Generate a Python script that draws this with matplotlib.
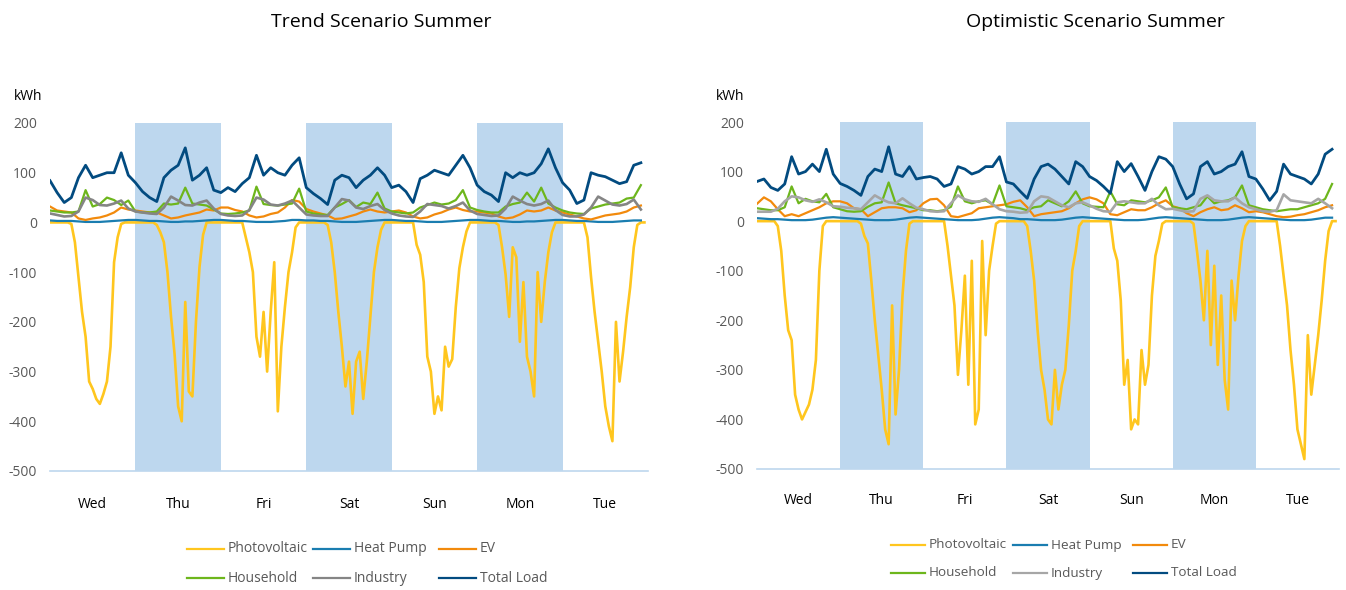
import numpy as np
import matplotlib
matplotlib.use("Agg")
import matplotlib.pyplot as plt
from matplotlib.lines import Line2D

plt.rcParams['font.family'] = ['Open Sans', 'DejaVu Sans']

# ---------------- data ----------------
days = ["Wed", "Thu", "Fri", "Sat", "Sun", "Mon", "Tue"]
shaded_days = ["Thu", "Sat", "Mon"]
series_names = ["Photovoltaic", "Heat Pump", "EV", "Household", "Industry", "Total Load"]
titles = ["Trend Scenario Summer", "Optimistic Scenario Summer"]
y_ticks = [200, 100, 0, -100, -200, -300, -400, -500]
unit_label = "kWh"

# Trend scenario -- PV hourly (24 values per day)
trend_pv = [
    0, 0, 0, 0, 0, 0, -3, -40, -110, -180, -230, -320, -335, -355, -365, -345, -320, -250, -80, -30, -3, 0, 0, 0,
    0, 0, 0, 0, 0, 0, -5, -20, -40, -100, -190, -265, -370, -400, -160, -340, -350, -200, -90, -25, 0, 0, 0, 0,
    0, 0, 0, 0, 0, 0, 0, -30, -60, -100, -230, -270, -180, -300, -180, -80, -380, -250, -170, -100, -60, -10, 0, 0,
    0, 0, 0, 0, 0, 0, -5, -40, -100, -180, -250, -330, -280, -385, -280, -260, -355, -280, -190, -100, -50, -15, 0, 0,
    0, 0, 0, 0, 0, 0, 0, -45, -65, -120, -270, -300, -385, -350, -378, -250, -290, -275, -170, -92, -50, -18, 0, 0,
    0, 0, 0, 0, 0, 0, -5, -50, -105, -190, -50, -70, -240, -120, -270, -300, -350, -100, -200, -120, -60, -20, 0, 0,
    0, 0, 0, 0, 0, 0, 0, -30, -110, -180, -240, -300, -370, -410, -440, -200, -320, -260, -190, -130, -50, -5, 0, 0,
]
# Trend scenario -- other series every 2 hours (12 values per day)
trend_hp = [
    4, 3, 3, 3, 2, 1, 1, 1, 2, 3, 4, 5,
    5, 4, 3, 3, 2, 1, 1, 2, 2, 3, 4, 5,
    5, 4, 3, 3, 2, 1, 1, 1, 2, 3, 5, 5,
    4, 4, 3, 3, 2, 1, 1, 1, 2, 3, 4, 5,
    5, 4, 3, 3, 2, 1, 1, 1, 2, 3, 4, 5,
    5, 4, 3, 3, 2, 1, 1, 2, 2, 3, 4, 5,
    5, 4, 3, 3, 2, 1, 1, 1, 2, 3, 4, 4,
]
trend_ev = [
    32, 24, 22, 20, 8, 5, 8, 10, 14, 20, 30, 26,
    24, 22, 20, 20, 14, 8, 10, 14, 17, 20, 26, 24,
    30, 30, 25, 22, 14, 10, 12, 17, 20, 30, 45, 42,
    27, 22, 18, 14, 7, 8, 12, 16, 22, 26, 22, 20,
    22, 24, 20, 12, 8, 10, 16, 20, 26, 30, 25, 22,
    22, 20, 18, 12, 8, 10, 16, 24, 22, 24, 30, 24,
    20, 16, 12, 8, 6, 10, 14, 16, 18, 22, 30, 34,
]
trend_household = [
    24, 22, 20, 20, 22, 65, 32, 37, 50, 45, 35, 44,
    22, 20, 20, 22, 38, 36, 38, 70, 38, 36, 34, 26,
    18, 17, 18, 20, 24, 72, 37, 35, 34, 36, 38, 68,
    22, 18, 16, 15, 30, 37, 45, 31, 40, 37, 60, 28,
    22, 20, 18, 20, 30, 35, 40, 36, 38, 45, 65, 30,
    25, 22, 20, 20, 32, 37, 40, 60, 42, 70, 38, 30,
    24, 20, 18, 17, 28, 32, 36, 38, 40, 48, 50, 75,
]
trend_industry = [
    18, 15, 12, 13, 22, 50, 45, 35, 34, 38, 44, 28,
    22, 20, 18, 17, 30, 52, 44, 35, 34, 40, 44, 28,
    17, 14, 13, 14, 25, 50, 46, 36, 34, 38, 44, 30,
    16, 14, 13, 13, 30, 47, 44, 30, 27, 33, 37, 25,
    18, 14, 12, 11, 22, 37, 35, 33, 28, 33, 40, 24,
    17, 15, 13, 14, 28, 52, 44, 37, 34, 37, 44, 25,
    15, 12, 12, 16, 30, 52, 44, 36, 34, 37, 46, 26,
]
trend_total = [
    84, 60, 40, 50, 90, 115, 90, 95, 100, 100, 140, 95,
    80, 62, 50, 42, 90, 105, 115, 150, 85, 95, 110, 65,
    60, 70, 62, 78, 90, 135, 95, 110, 100, 95, 115, 130,
    70, 58, 48, 36, 85, 95, 90, 70, 85, 95, 110, 95,
    70, 75, 62, 40, 88, 95, 105, 100, 95, 115, 135, 110,
    75, 62, 55, 42, 100, 90, 100, 95, 100, 118, 148, 110,
    80, 65, 38, 45, 100, 95, 92, 85, 78, 82, 115, 120,
]

# Optimistic scenario -- PV hourly
opt_pv = [
    0, 0, 0, 0, 0, 0, -10, -60, -150, -220, -240, -350, -380, -400, -385, -370, -340, -280, -100, -10, 0, 0, 0, 0,
    0, 0, 0, 0, 0, 0, -5, -30, -45, -120, -200, -270, -340, -420, -450, -170, -390, -300, -150, -60, -5, 0, 0, 0,
    0, 0, 0, 0, 0, 0, 0, -50, -110, -170, -310, -220, -110, -330, -80, -410, -380, -40, -230, -100, -50, -5, 0, 0,
    0, 0, 0, 0, 0, 0, -10, -60, -120, -220, -300, -340, -400, -410, -300, -380, -330, -300, -210, -100, -60, -10, 0, 0,
    0, 0, 0, 0, 0, 0, 0, -55, -80, -160, -330, -280, -420, -400, -410, -260, -330, -290, -150, -70, -40, -5, 0, 0,
    0, 0, 0, 0, 0, 0, -5, -60, -120, -200, -60, -250, -90, -290, -150, -320, -380, -120, -200, -110, -40, -10, 0, 0,
    0, 0, 0, 0, 0, 0, 0, -50, -110, -170, -260, -330, -420, -450, -480, -230, -350, -290, -230, -160, -80, -20, 0, 0,
]
opt_hp = [
    6, 5, 4, 4, 3, 2, 2, 2, 3, 5, 7, 8,
    7, 6, 5, 4, 3, 2, 2, 2, 3, 5, 7, 8,
    7, 6, 5, 4, 3, 2, 2, 2, 3, 5, 7, 8,
    7, 6, 4, 4, 3, 2, 2, 2, 3, 5, 7, 8,
    7, 6, 5, 4, 3, 2, 2, 2, 3, 5, 7, 8,
    7, 6, 5, 4, 3, 2, 2, 2, 3, 5, 7, 8,
    7, 6, 5, 4, 3, 2, 2, 2, 3, 5, 7, 7,
]
opt_ev = [
    35, 48, 40, 24, 10, 14, 10, 16, 22, 28, 36, 40,
    40, 36, 26, 24, 10, 18, 26, 28, 28, 26, 18, 22,
    36, 44, 45, 32, 10, 8, 12, 16, 26, 28, 30, 32,
    34, 39, 42, 28, 10, 14, 16, 18, 20, 26, 36, 44,
    48, 44, 36, 14, 12, 18, 24, 22, 22, 28, 36, 42,
    30, 26, 16, 10, 18, 24, 28, 22, 24, 32, 26, 18,
    20, 18, 14, 10, 8, 9, 12, 14, 18, 22, 28, 32,
]
opt_household = [
    26, 24, 22, 22, 28, 70, 36, 45, 40, 38, 55, 28,
    24, 20, 19, 20, 29, 36, 38, 78, 36, 32, 29, 26,
    22, 22, 20, 22, 29, 70, 40, 36, 40, 42, 34, 72,
    30, 28, 26, 22, 28, 30, 42, 36, 30, 40, 60, 36,
    30, 29, 28, 60, 34, 32, 42, 40, 38, 42, 48, 68,
    28, 26, 24, 28, 32, 50, 36, 40, 42, 48, 72, 32,
    28, 24, 22, 20, 22, 24, 24, 28, 32, 36, 45, 75,
]
opt_industry = [
    19, 19, 19, 25, 40, 50, 48, 42, 39, 44, 38, 30,
    29, 27, 26, 24, 38, 52, 44, 38, 36, 46, 36, 27,
    24, 20, 19, 20, 36, 52, 44, 40, 39, 45, 34, 24,
    20, 19, 17, 18, 40, 50, 48, 40, 32, 28, 36, 38,
    32, 25, 20, 19, 38, 40, 38, 36, 36, 45, 32, 24,
    25, 22, 19, 20, 45, 52, 42, 40, 40, 48, 36, 28,
    24, 20, 19, 22, 54, 42, 40, 38, 36, 45, 36, 26,
]
opt_total = [
    80, 85, 68, 62, 75, 130, 95, 100, 115, 100, 145, 95,
    76, 70, 62, 52, 90, 105, 100, 150, 95, 90, 110, 85,
    88, 90, 85, 70, 75, 110, 105, 95, 100, 110, 110, 130,
    79, 75, 60, 46, 85, 110, 115, 105, 90, 75, 120, 110,
    90, 82, 70, 56, 120, 100, 116, 90, 62, 100, 130, 125,
    110, 75, 45, 55, 110, 120, 95, 100, 110, 115, 140, 90,
    85, 65, 42, 60, 115, 95, 90, 85, 75, 95, 135, 145,
]

# ---------------- style ----------------
band_color = "#BDD7EE"
colors_trend = ["#FFC61E", "#1A7DB0", "#F28A0C", "#6DB61C", "#858585", "#024B80"]
colors_opt = ["#FFC61E", "#1A7DB0", "#F28A0C", "#6DB61C", "#A6A6A6", "#024B80"]
widths = [1.9, 1.6, 1.6, 1.6, 1.9, 2.0]

W, H = 1346, 590
fig = plt.figure(figsize=(W / 100, H / 100), dpi=100)


def fx(px):
    return px / W


def fy(py):
    return 1 - py / H


panels = [
    dict(rect=[fx(50), fy(471), fx(598), 348 / H], title_xy=(381, 22), unit_xy=(28, 97),
         data=[trend_pv, trend_hp, trend_ev, trend_household, trend_industry, trend_total],
         colors=colors_trend, xpad=18.5,
         leg_x=[187, 313, 439], leg_len=37, leg_gap=4, leg_y=[549, 578], leg_fs=10),
    dict(rect=[fx(757), fy(469), fx(582), 347 / H], title_xy=(1095, 22), unit_xy=(730, 97),
         data=[opt_pv, opt_hp, opt_ev, opt_household, opt_industry, opt_total],
         colors=colors_opt, xpad=17,
         leg_x=[891, 1013, 1133], leg_len=34, leg_gap=4, leg_y=[545, 573], leg_fs=9.7),
]

n_hours = 24 * len(days)
for p, title in zip(panels, titles):
    ax = fig.add_axes(p["rect"])
    for d in shaded_days:
        i = days.index(d)
        ax.axvspan(i * 24, (i + 1) * 24, color=band_color, lw=0, zorder=0)
    for k, (vals, c, lw) in enumerate(zip(p["data"], p["colors"], widths)):
        vals = np.asarray(vals, dtype=float)
        step = n_hours / len(vals)
        x = np.arange(len(vals)) * step
        ax.plot(x, vals, color=c, lw=lw, zorder=2 + k, solid_joinstyle="round")
    ax.set_xlim(0, n_hours)
    ax.set_ylim(-500, 200)
    ax.set_yticks(y_ticks)
    ax.set_yticklabels([str(v) for v in y_ticks], color="#595959", fontsize=10)
    ax.set_xticks([i * 24 + 12 for i in range(len(days))])
    ax.set_xticklabels(days, fontsize=10, color="#000000")
    ax.tick_params(axis="both", length=0)
    ax.tick_params(axis="y", pad=9.5)
    ax.tick_params(axis="x", pad=p["xpad"])
    for s in ["top", "right", "left"]:
        ax.spines[s].set_visible(False)
    ax.spines["bottom"].set_color(band_color)
    ax.spines["bottom"].set_linewidth(1.2)
    ax.patch.set_alpha(0)

    fig.text(fx(p["title_xy"][0]), fy(p["title_xy"][1]), title, ha="center", va="center",
             fontsize=14, color="#000000")
    fig.text(fx(p["unit_xy"][0]), fy(p["unit_xy"][1]), unit_label, ha="center", va="center",
             fontsize=10, color="#000000")

    # legend: row 1 -> first three series, row 2 -> last three
    for idx, name in enumerate(series_names):
        row, col = divmod(idx, 3)
        x0 = p["leg_x"][col]
        y0 = p["leg_y"][row]
        fig.add_artist(Line2D([fx(x0), fx(x0 + p["leg_len"])], [fy(y0), fy(y0)],
                              transform=fig.transFigure, color=p["colors"][idx], lw=1.6))
        fig.text(fx(x0 + p["leg_len"] + p["leg_gap"]), fy(y0), name, ha="left", va="center",
                 fontsize=p["leg_fs"], color="#595959")

fig.savefig("out.png", dpi=100)
